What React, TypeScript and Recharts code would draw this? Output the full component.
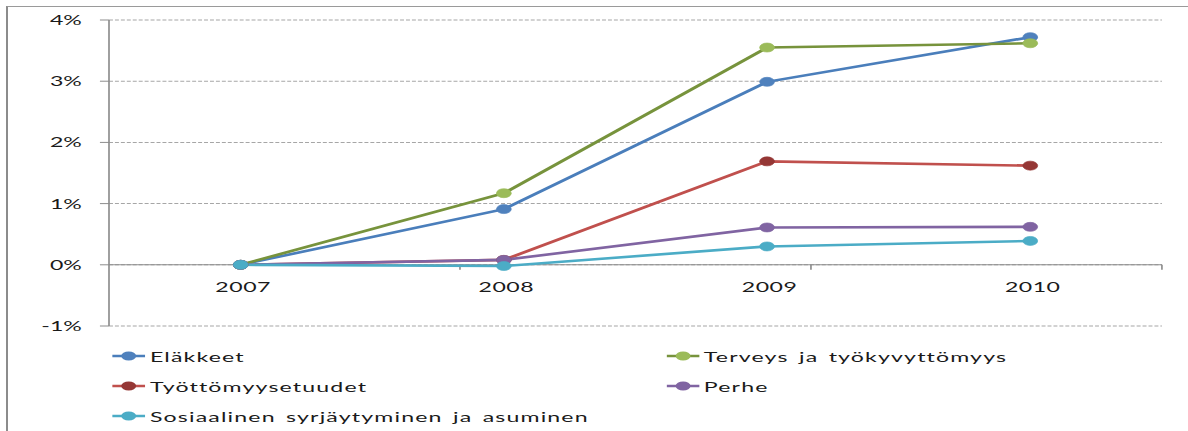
import React from 'react';
import { LineChart, Line, XAxis, YAxis, CartesianGrid, ReferenceLine, Legend } from 'recharts';

// values, in percent
const years = ['2007', '2008', '2009', '2010'];
const elakkeet = [0, 0.91, 2.99, 3.72];
const terveys = [0, 1.17, 3.55, 3.62];
const tyottomyys = [0, 0.08, 1.69, 1.62];
const perhe = [0, 0.08, 0.61, 0.62];
const sosiaalinen = [0, -0.02, 0.3, 0.39];
const yTicks = [-1, 0, 1, 2, 3, 4];
const bandEdges = [1, 2, 3];

const series = [
  { key: 'elakkeet', name: 'Eläkkeet', line: '#4A7EBB', marker: '#4F81BD' },
  { key: 'terveys', name: 'Terveys ja työkyvyttömyys', line: '#77933C', marker: '#9BBB59' },
  { key: 'tyottomyys', name: 'Työttömyysetuudet', line: '#C0504D', marker: '#953735' },
  { key: 'perhe', name: 'Perhe', line: '#8064A2', marker: '#8064A2' },
  { key: 'sosiaalinen', name: 'Sosiaalinen syrjäytyminen ja asuminen', line: '#4BACC6', marker: '#4BACC6' },
];

const data = years.map((year, i) => ({
  year,
  elakkeet: elakkeet[i],
  terveys: terveys[i],
  tyottomyys: tyottomyys[i],
  perhe: perhe[i],
  sosiaalinen: sosiaalinen[i],
}));

// the original picture is stretched sideways, so the whole chart is too
const STRETCH = 1.65;
const FONT = 'Lato, "Liberation Sans", sans-serif';
const HALF_BAND = 79.8;

const YearTick = (props: any) => {
  const { x, y, payload } = props;
  return (
    <text x={x + 1.5} y={y - 34} textAnchor="middle" fill="#1a1a1a" fontSize={14} fontFamily={FONT} letterSpacing={0.3}>
      {payload.value}
    </text>
  );
};

const LegendContent = () => (
  <div
    style={{
      display: 'grid',
      gridTemplateColumns: '335.7px 1fr',
      gridAutoRows: '30px',
      fontFamily: FONT,
      fontSize: 14,
      letterSpacing: 0.7,
      wordSpacing: 2,
      color: '#1a1a1a',
    }}
  >
    {series.map((s) => (
      <div key={s.key} style={{ display: 'flex', alignItems: 'center', whiteSpace: 'nowrap' }}>
        <svg width={20} height={10} style={{ marginRight: 3 }}>
          <line x1={0} y1={5} x2={20} y2={5} stroke={s.line} strokeWidth={2.5} />
          <circle cx={10} cy={5} r={4.5} fill={s.marker} />
        </svg>
        <span>{s.name}</span>
      </div>
    ))}
  </div>
);

export default function App() {
  return (
    <div style={{ position: 'absolute', left: 0, top: 0, width: 1188, height: 431, overflow: 'hidden', background: '#fff' }}>
      <div
        style={{
          position: 'absolute',
          left: 6,
          top: 6,
          width: 1300,
          height: 500,
          borderLeft: '2px solid #8c8c8c',
          borderTop: '1px solid #9a9a9a',
        }}
      />
      <div style={{ position: 'absolute', left: 0, top: 0, transform: `scaleX(${STRETCH})`, transformOrigin: '0 0' }}>
        <LineChart width={720} height={431} data={data} margin={{ top: 20, right: 15.8, left: 0, bottom: 85 }}>
          <CartesianGrid vertical={false} stroke="#a6a6a6" strokeDasharray="2.4 1.2" />
          <XAxis
            dataKey="year"
            height={20}
            padding={{ left: HALF_BAND, right: HALF_BAND }}
            axisLine={false}
            tickLine={false}
            tickSize={0}
            tickMargin={0}
            tick={<YearTick />}
          />
          <XAxis xAxisId="edges" type="number" domain={[0, 4]} allowDataOverflow hide />
          <YAxis
            width={66.06}
            domain={[-1, 4]}
            ticks={yTicks}
            interval={0}
            tickFormatter={(v: number) => `${v}%`}
            axisLine={{ stroke: '#8c8c8c' }}
            tickLine={{ stroke: '#8c8c8c' }}
            tickSize={5.5}
            tickMargin={11}
            tick={{ fill: '#1a1a1a', fontSize: 14, fontFamily: FONT }}
          />
          <ReferenceLine y={0} stroke="#8c8c8c" strokeWidth={1} />
          {bandEdges.map((e) => (
            <ReferenceLine
              key={e}
              xAxisId="edges"
              stroke="#8c8c8c"
              segment={[
                { x: e, y: 0 },
                { x: e, y: -0.08 },
              ]}
            />
          ))}
          <Legend
            layout="horizontal"
            verticalAlign="middle"
            align="center"
            wrapperStyle={{ top: 341, left: 67.9, width: 640 }}
            content={<LegendContent />}
          />
          {series.map((s) => (
            <Line
              key={s.key}
              type="linear"
              dataKey={s.key}
              name={s.name}
              stroke={s.line}
              strokeWidth={2.6}
              dot={{ r: 4.5, fill: s.marker, stroke: s.marker, strokeWidth: 0.5 }}
              activeDot={false}
              isAnimationActive={false}
            />
          ))}
        </LineChart>
      </div>
    </div>
  );
}
